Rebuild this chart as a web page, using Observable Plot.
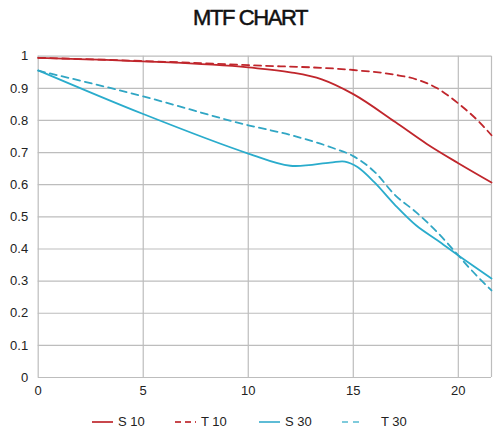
<!DOCTYPE html>
<html><head><meta charset="utf-8">
<script src="https://cdn.jsdelivr.net/npm/d3@7"></script>
<script src="https://cdn.jsdelivr.net/npm/@observablehq/plot@0.6"></script>
<style>
body{margin:0;background:#fff;font-family:"Liberation Sans",Arial,sans-serif;}
#wrap{position:relative;width:500px;height:444px;}
#title{position:absolute;left:0;top:0;width:500px;height:38px;text-align:center;font-size:22px;font-weight:normal;-webkit-text-stroke:0.5px #111;line-height:36px;letter-spacing:-1.4px;color:#111;font-family:"Liberation Sans",Arial,sans-serif;}
#chart{position:absolute;left:0;top:40px;}
#legend{position:absolute;left:0;top:410px;width:500px;height:34px;}
.li{position:absolute;top:4px;font-size:13px;color:#222;display:flex;align-items:center;}
</style></head>
<body><div id="wrap"><div id="title">MTF CHART</div><div id="chart"></div><div id="legend"></div></div>
<script>
const xMax = 21.58;
const xTicks = [0, 5, 10, 15, 20];
const yTicks = [0, 0.1, 0.2, 0.3, 0.4, 0.5, 0.6, 0.7, 0.8, 0.9, 1];

const seriesNames = ["S 10", "T 10", "S 30", "T 30"];
const s10X = [0, 5, 10, 12, 13.5, 15, 17, 18.5, 20, 21.58];
const s10Y = [0.995, 0.984, 0.965, 0.95, 0.928, 0.882, 0.795, 0.727, 0.667, 0.607];
const t10X = [0, 5, 10, 15, 17, 18, 19, 20, 21, 21.58];
const t10Y = [0.995, 0.985, 0.972, 0.957, 0.942, 0.928, 0.9, 0.853, 0.795, 0.754];
const s30X = [0, 5, 10, 12, 13.9, 14.6, 15.2, 16, 17, 18, 19, 20, 21.58];
const s30Y = [0.956, 0.82, 0.697, 0.659, 0.669, 0.672, 0.655, 0.608, 0.536, 0.473, 0.427, 0.38, 0.308];
const t30X = [0, 5, 10, 12, 14, 15, 16, 17, 18, 19, 20, 20.5, 21.58];
const t30Y = [0.955, 0.875, 0.785, 0.755, 0.715, 0.689, 0.641, 0.567, 0.514, 0.452, 0.38, 0.343, 0.271];

const red = "#c0262c", cyan = "#2aaccc";
const toRows = (xs, ys, name) => xs.map((x, i) => ({x, y: ys[i], name}));
const s10 = toRows(s10X, s10Y, seriesNames[0]);
const t10 = toRows(t10X, t10Y, seriesNames[1]);
const s30 = toRows(s30X, s30Y, seriesNames[2]);
const t30 = toRows(t30X, t30Y, seriesNames[3]);

const plot = Plot.plot({
  width: 500, height: 370,
  marginLeft: 37.7, marginRight: 9, marginTop: 15.7, marginBottom: 33,
  style: {fontFamily: '"Liberation Sans",Arial,sans-serif', fontSize: "13px", color: "#222", background: "#fff"},
  x: {domain: [0, xMax], ticks: xTicks, tickSize: 0, tickPadding: 8, label: null},
  y: {domain: [0, 1], ticks: yTicks, tickSize: 0, tickPadding: 10, label: null, tickFormat: d => String(+d.toFixed(1))},
  marks: [
    Plot.gridY(yTicks, {stroke: "#bdbdbd", strokeOpacity: 1, strokeWidth: 1.2}),
    Plot.gridX(xTicks, {stroke: "#bdbdbd", strokeOpacity: 1, strokeWidth: 1.2}),
    Plot.ruleX([xMax], {stroke: "#bdbdbd", strokeWidth: 1.2}),
    Plot.line(s30, {x: "x", y: "y", stroke: cyan, strokeWidth: 1.8, curve: "catmull-rom"}),
    Plot.line(t30, {x: "x", y: "y", stroke: "#30a6c4", strokeWidth: 1.8, strokeDasharray: "7,5", curve: "monotone-x"}),
    Plot.line(t10, {x: "x", y: "y", stroke: red, strokeWidth: 1.8, strokeDasharray: "7,5", curve: "monotone-x"}),
    Plot.line(s10, {x: "x", y: "y", stroke: red, strokeWidth: 1.8, curve: "monotone-x"}),
    Plot.axisX({ticks: xTicks, tickSize: 0, tickPadding: 8, fontSize: 13}),
    Plot.axisY({ticks: yTicks, tickSize: 0, tickPadding: 10, fontSize: 13, tickFormat: d => String(+d.toFixed(1))})
  ]
});
document.getElementById("chart").appendChild(plot);

const legendItems = [
  {name: seriesNames[0], color: "#c8474c", dash: null, left: 92, gap: 5},
  {name: seriesNames[1], color: "#c8474c", dash: "6,4", left: 175, gap: 5},
  {name: seriesNames[2], color: "#5ebcd6", dash: null, left: 259, gap: 5},
  {name: seriesNames[3], color: "#7fcbdc", dash: "6,5", left: 342, gap: 18}
];
const leg = document.getElementById("legend");
for (const it of legendItems) {
  const d = document.createElement("div");
  d.className = "li";
  d.style.left = it.left + "px";
  d.innerHTML = `<svg width="21" height="14"><line x1="0" x2="21" y1="7" y2="7" stroke="${it.color}" stroke-width="2" ${it.dash ? `stroke-dasharray="${it.dash}"` : ""}/></svg><span style="margin-left:${it.gap}px">${it.name}</span>`;
  leg.appendChild(d);
}
</script></body></html>
